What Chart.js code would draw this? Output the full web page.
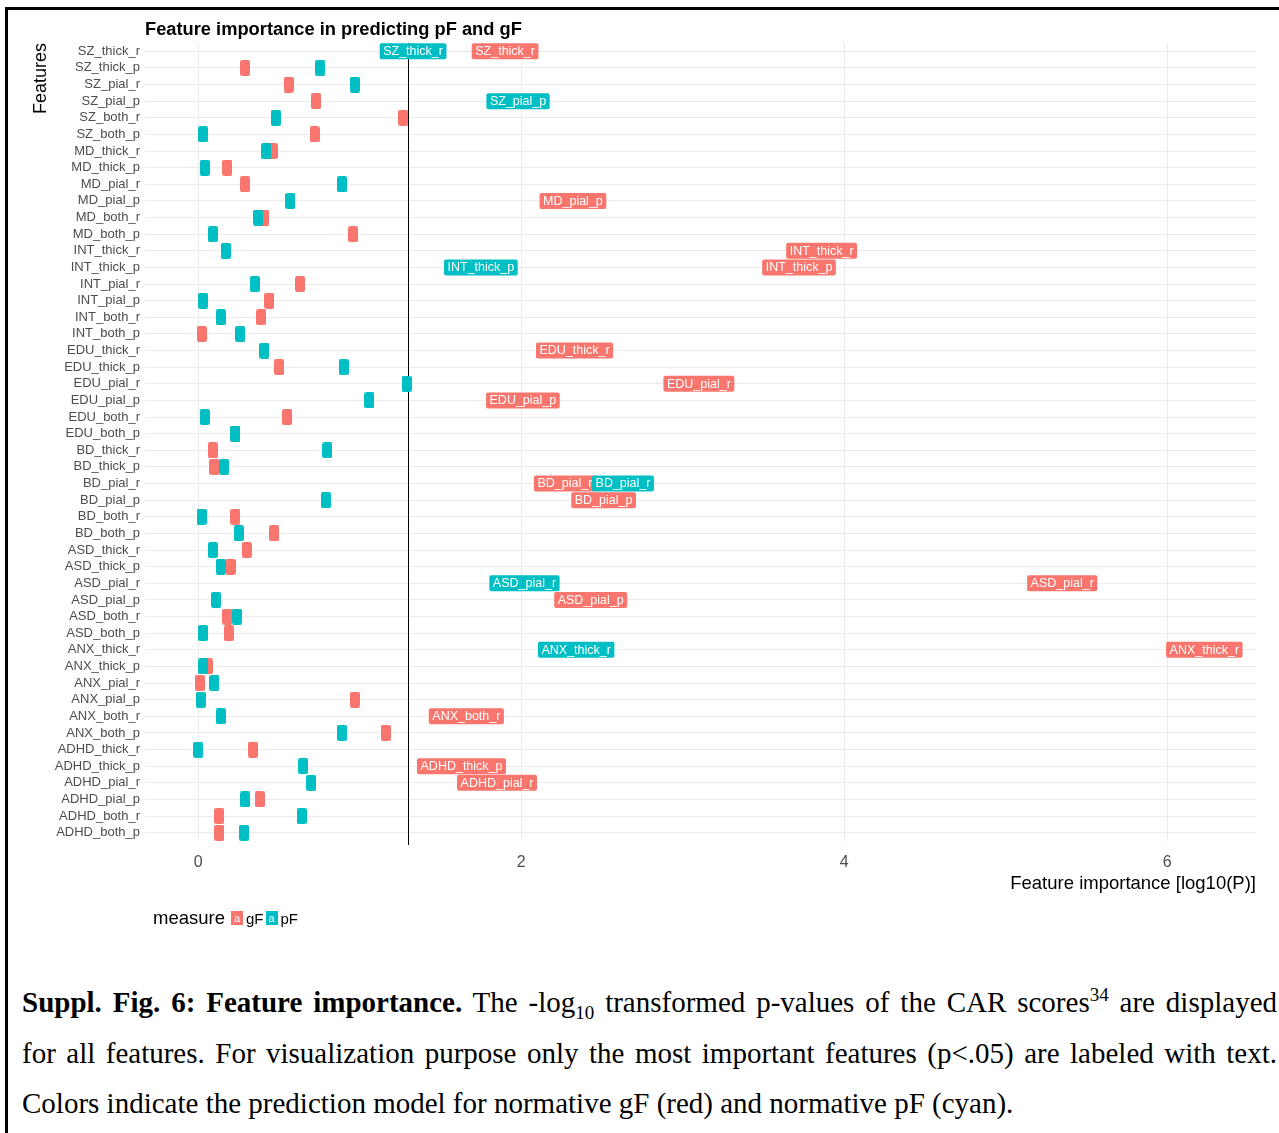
<!DOCTYPE html>
<html lang="en">
<head>
    <meta charset="UTF-8">
    <title>Feature importance in predicting pF and gF</title>
    <script src="https://cdn.jsdelivr.net/npm/chart.js"></script>
    <style>
        body {
            margin: 0;
            background: #fff;
            font-family: "Liberation Sans", Arial, sans-serif;
        }
        .frame {
            position: absolute;
            left: 5px;
            top: 7px;
            width: 1274px;
            height: 1126px;
            border-left: 3px solid #000;
            border-top: 3px solid #000;
        }
        #chart {
            position: absolute;
            left: 8px;
            top: 10px;
        }
        .legend {
            position: absolute;
            left: 153px;
            top: 906px;
            height: 24px;
            display: flex;
            align-items: center;
            color: #000;
        }
        .legend .title { font-size: 18.5px; margin-right: 6px; }
        .legend .key {
            display: inline-block;
            width: 12px;
            height: 14px;
            line-height: 14px;
            text-align: center;
            color: #fff;
            font-size: 11px;
            margin-right: 3px;
        }
        .legend .txt { font-size: 15px; margin-right: 2px; }
        .caption {
            position: absolute;
            left: 22px;
            top: 977px;
            width: 1255px;
            font-family: "Liberation Serif", "Times New Roman", serif;
            font-size: 29px;
            line-height: 50.5px;
            color: #000;
        }
        .caption div { text-align: justify; text-align-last: justify; white-space: nowrap; }
        .caption div.last { text-align-last: left; }
        .caption sub, .caption sup { line-height: 0; font-size: 19px; }
    </style>
</head>
<body>
    <div class="frame"></div>
    <canvas id="chart" width="1271" height="945"></canvas>

    <div class="legend">
        <span class="title">measure</span>
        <span class="key" style="background:#F8766D">a</span><span class="txt">gF</span>
        <span class="key" style="background:#00BFC4">a</span><span class="txt">pF</span>
    </div>

    <div class="caption">
        <div><b>Suppl. Fig. 6: Feature importance.</b> The -log<sub>10</sub> transformed p-values of the CAR scores<sup>34</sup> are displayed</div>
        <div>for all features. For visualization purpose only the most important features (p&lt;.05) are labeled with text.</div>
        <div class="last">Colors indicate the prediction model for normative gF (red) and normative pF (cyan).</div>
    </div>

    <script>
        const features = [
            'SZ_thick_r', 'SZ_thick_p', 'SZ_pial_r', 'SZ_pial_p', 'SZ_both_r', 'SZ_both_p',
            'MD_thick_r', 'MD_thick_p', 'MD_pial_r', 'MD_pial_p', 'MD_both_r', 'MD_both_p',
            'INT_thick_r', 'INT_thick_p', 'INT_pial_r', 'INT_pial_p', 'INT_both_r', 'INT_both_p',
            'EDU_thick_r', 'EDU_thick_p', 'EDU_pial_r', 'EDU_pial_p', 'EDU_both_r', 'EDU_both_p',
            'BD_thick_r', 'BD_thick_p', 'BD_pial_r', 'BD_pial_p', 'BD_both_r', 'BD_both_p',
            'ASD_thick_r', 'ASD_thick_p', 'ASD_pial_r', 'ASD_pial_p', 'ASD_both_r', 'ASD_both_p',
            'ANX_thick_r', 'ANX_thick_p', 'ANX_pial_r', 'ANX_pial_p', 'ANX_both_r', 'ANX_both_p',
            'ADHD_thick_r', 'ADHD_thick_p', 'ADHD_pial_r', 'ADHD_pial_p', 'ADHD_both_r', 'ADHD_both_p'
        ];

        // -log10(p) per feature, same order as features
        const gF = [
            1.90, 0.29, 0.56, 0.73, 1.27, 0.72,
            0.46, 0.18, 0.29, 2.32, 0.41, 0.96,
            3.86, 3.72, 0.63, 0.44, 0.39, 0.02,
            2.33, 0.50, 3.10, 2.01, 0.55, 0.23,
            0.09, 0.10, 2.27, 2.51, 0.23, 0.47,
            0.30, 0.20, 5.35, 2.43, 0.18, 0.19,
            6.23, 0.06, 0.01, 0.97, 1.66, 1.16,
            0.34, 1.63, 1.85, 0.38, 0.13, 0.13
        ];
        const pF = [
            1.33, 0.755, 0.97, 1.98, 0.48, 0.03,
            0.42, 0.04, 0.89, 0.57, 0.37, 0.09,
            0.17, 1.75, 0.35, 0.03, 0.14, 0.26,
            0.41, 0.90, 1.29, 1.06, 0.04, 0.23,
            0.80, 0.16, 2.63, 0.79, 0.02, 0.25,
            0.09, 0.14, 2.02, 0.11, 0.24, 0.03,
            2.34, 0.03, 0.10, 0.015, 0.14, 0.89,
            0.00, 0.65, 0.70, 0.29, 0.64, 0.285
        ];

        const xTicks = [0, 2, 4, 6];
        const cutoff = -Math.log10(0.05);

        const red = '#F8766D';
        const cyan = '#00BFC4';

        Chart.defaults.font.family = '"Liberation Sans", Arial, sans-serif';

        // small rounded box used as the point marker
        function makeMarker(color) {
            const c = document.createElement('canvas');
            c.width = 10;
            c.height = 16;
            const g = c.getContext('2d');
            g.fillStyle = color;
            g.beginPath();
            g.roundRect(0, 0, 10, 16, 2);
            g.fill();
            return c;
        }

        function toPoints(values) {
            return values.map((v, i) => ({ x: v, y: features[i] }));
        }

        function hideIfLabeled(ctx) {
            return ctx.raw && ctx.raw.x > cutoff ? 0 : 5;
        }

        // vertical line at p = .05 and text labels for significant features
        const sigPlugin = {
            id: 'sigLabels',
            beforeDatasetsDraw(chart) {
                const { ctx, chartArea, scales } = chart;
                const px = Math.round(scales.x.getPixelForValue(cutoff)) + 0.5;
                ctx.save();
                ctx.strokeStyle = '#000';
                ctx.lineWidth = 1;
                ctx.beginPath();
                ctx.moveTo(px, chartArea.top);
                ctx.lineTo(px, chartArea.bottom + 4);
                ctx.stroke();
                ctx.restore();
            },
            afterDatasetsDraw(chart) {
                const ctx = chart.ctx;
                ctx.save();
                ctx.font = '12.5px "Liberation Sans", Arial, sans-serif';
                ctx.textAlign = 'center';
                ctx.textBaseline = 'middle';
                chart.data.datasets.forEach((ds, i) => {
                    const meta = chart.getDatasetMeta(i);
                    meta.data.forEach((pt, j) => {
                        if (ds.data[j].x <= cutoff) return;
                        const text = features[j];
                        const w = ctx.measureText(text).width + 7;
                        const h = 16;
                        ctx.fillStyle = ds.backgroundColor;
                        ctx.beginPath();
                        ctx.roundRect(pt.x - w / 2, pt.y - h / 2, w, h, 2);
                        ctx.fill();
                        ctx.fillStyle = '#fff';
                        ctx.fillText(text, pt.x, pt.y + 0.5);
                    });
                });
                ctx.restore();
            }
        };

        const gfMarker = makeMarker(red);
        const pfMarker = makeMarker(cyan);

        new Chart(document.getElementById('chart'), {
            type: 'scatter',
            data: {
                datasets: [
                    {
                        label: 'gF',
                        data: toPoints(gF),
                        backgroundColor: red,
                        borderColor: red,
                        pointStyle: gfMarker,
                        radius: hideIfLabeled,
                        order: 1
                    },
                    {
                        label: 'pF',
                        data: toPoints(pF),
                        backgroundColor: cyan,
                        borderColor: cyan,
                        pointStyle: pfMarker,
                        radius: hideIfLabeled,
                        order: 0
                    }
                ]
            },
            options: {
                responsive: false,
                animation: false,
                events: [],
                devicePixelRatio: 1,
                layout: {
                    padding: { left: 0, right: 23, top: 0, bottom: 60 }
                },
                plugins: {
                    legend: { display: false },
                    tooltip: { enabled: false },
                    title: {
                        display: true,
                        text: 'Feature importance in predicting pF and gF',
                        align: 'start',
                        fullSize: false,
                        color: '#000',
                        font: { size: 18.3, weight: 'bold' },
                        padding: { top: 9, bottom: 2 }
                    }
                },
                scales: {
                    x: {
                        type: 'linear',
                        min: -0.33,
                        max: 6.55,
                        afterBuildTicks: (scale) => {
                            scale.ticks = xTicks.map(v => ({ value: v }));
                        },
                        afterFit: (scale) => { scale.height = 54; },
                        grid: { color: '#ebebeb', drawTicks: false },
                        border: { display: false },
                        ticks: {
                            color: '#4d4d4d',
                            font: { size: 16 },
                            padding: 12
                        },
                        title: {
                            display: true,
                            text: 'Feature importance [log10(P)]',
                            align: 'end',
                            color: '#000',
                            font: { size: 18.5 },
                            padding: { top: 2, bottom: 0 }
                        }
                    },
                    y: {
                        type: 'category',
                        labels: features,
                        offset: true,
                        afterFit: (scale) => { scale.width = 137; },
                        grid: { color: '#ebebeb', drawTicks: false, offset: false },
                        border: { display: false },
                        ticks: {
                            color: '#4d4d4d',
                            font: { size: 13 },
                            padding: 5,
                            autoSkip: false
                        },
                        title: {
                            display: true,
                            text: 'Features',
                            align: 'end',
                            color: '#000',
                            font: { size: 18 },
                            padding: { top: 22, bottom: 0 }
                        }
                    }
                }
            },
            plugins: [sigPlugin]
        });
    </script>
</body>
</html>
